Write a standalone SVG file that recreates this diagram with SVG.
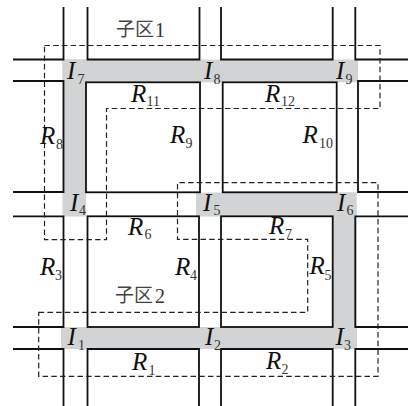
<svg xmlns="http://www.w3.org/2000/svg" width="408" height="406" viewBox="0 0 408 406">
<style>
.g{fill:#d1d3d4}
.l{fill:none;stroke:#111;stroke-width:1.8}
.d{fill:none;stroke:#222;stroke-width:1.2;stroke-dasharray:5.5 3.2}
.t{font-family:"Liberation Serif",serif;font-style:italic;font-size:25px;fill:#111}
.s{font-family:"Liberation Serif",serif;font-size:14px;fill:#333}
.c{font-family:"Noto Sans CJK SC","Liberation Serif",serif;font-size:19px;fill:#444}
.n{font-family:"Liberation Serif",serif;font-size:20px;fill:#333}
</style>
<g id="roads">
<rect class="g" x="62.500" y="59.500" width="295.500" height="22.800"/>
<rect class="g" x="62.500" y="59.500" width="23.500" height="157"/>
<rect class="g" x="196" y="192.500" width="160.500" height="24"/>
<rect class="g" x="332.700" y="192.500" width="23.800" height="156.500"/>
<rect class="g" x="61" y="327" width="296" height="22"/>
</g>
<g id="connectors">
<path class="l" d="M63.500 7V59.500H13M87.500 7V59.500H199.500V7M221 7V59.500H332.700V7M355.300 7V59.500H408"/>
<rect class="l" x="86" y="82.300" width="114" height="110"/>
<rect class="l" x="222.700" y="82.300" width="114" height="110"/>
<path class="l" d="M13 81H63.500V192H13M408 81H358V192H408"/>
<path class="l" d="M13 216.300H63.500V327H13M408 216.300H355.300V327H408"/>
<rect class="l" x="87.500" y="216.300" width="111.500" height="110.700"/>
<rect class="l" x="221" y="216.300" width="111.700" height="110.700"/>
<path class="l" d="M13 349H63.500V406M87.500 406V349H199V406M221 406V349H332.700V406M355.300 406V349H408"/>
<path class="d" d="M44.500 45.500H380V108.500H106.500V239.700H44.500Z"/>
<path class="d" d="M38.700 312.300H307.700V239.300H177.500V182.700H378V376.300H38.700Z"/>
</g>
<g id="labels">
<text class="c" x="116" y="36">子区</text><text class="n" x="155" y="36.700">1</text>
<text class="c" x="115" y="302">子区</text><text class="n" x="155" y="303">2</text>
<text class="t" x="67" y="78.500">I</text><text class="s" x="77.500" y="83.500">7</text>
<text class="t" x="204" y="78.500">I</text><text class="s" x="213.500" y="83.500">8</text>
<text class="t" x="336" y="78.500">I</text><text class="s" x="345.500" y="83.500">9</text>
<text class="t" x="70" y="211">I</text><text class="s" x="79" y="215">4</text>
<text class="t" x="203" y="211">I</text><text class="s" x="213.500" y="215">5</text>
<text class="t" x="337" y="211">I</text><text class="s" x="346.500" y="215">6</text>
<text class="t" x="67.500" y="344.700">I</text><text class="s" x="78" y="349.700">1</text>
<text class="t" x="205" y="344.700">I</text><text class="s" x="214" y="349.700">2</text>
<text class="t" x="335.500" y="344.700">I</text><text class="s" x="344" y="349.700">3</text>
<text class="t" x="131" y="101.500">R</text><text class="s" x="146.500" y="105.500">11</text>
<text class="t" x="265" y="101.500">R</text><text class="s" x="281" y="105.500">12</text>
<text class="t" x="40" y="144">R</text><text class="s" x="56" y="149">8</text>
<text class="t" x="170" y="143">R</text><text class="s" x="185.500" y="147.500">9</text>
<text class="t" x="302.500" y="143">R</text><text class="s" x="319" y="147.500">10</text>
<text class="t" x="128" y="234.500">R</text><text class="s" x="144.500" y="238.500">6</text>
<text class="t" x="269" y="234">R</text><text class="s" x="285" y="239">7</text>
<text class="t" x="40" y="274.700">R</text><text class="s" x="55" y="280">3</text>
<text class="t" x="175" y="275">R</text><text class="s" x="190" y="280">4</text>
<text class="t" x="309.500" y="274">R</text><text class="s" x="324.500" y="280">5</text>
<text class="t" x="132" y="369.700">R</text><text class="s" x="148.500" y="374.700">1</text>
<text class="t" x="266" y="368.700">R</text><text class="s" x="281.500" y="373.700">2</text>
</g>
</svg>
